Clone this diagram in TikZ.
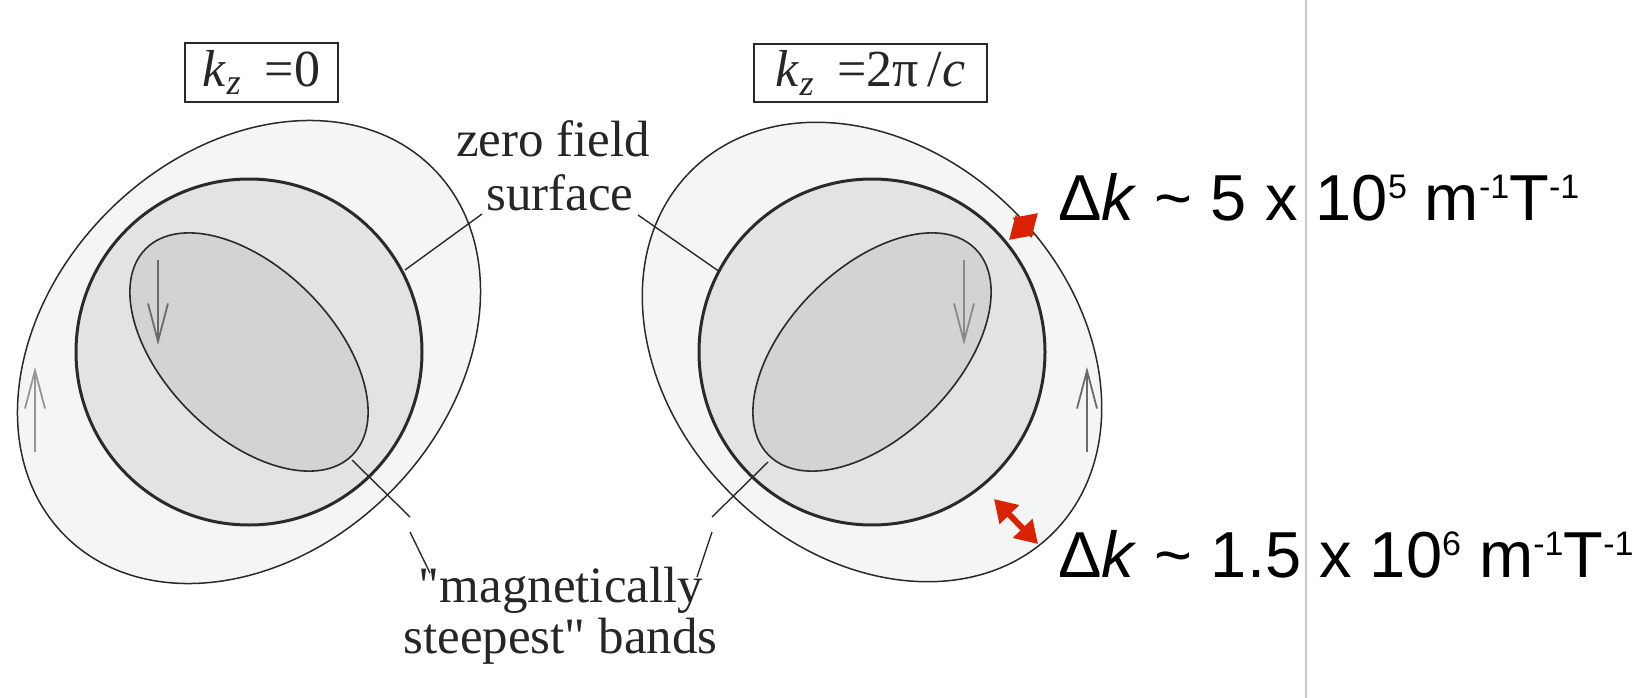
\documentclass[tikz,border=0pt]{standalone}
\usepackage{fontspec}
\setmainfont{Liberation Serif}
\setsansfont{Liberation Sans}
\usetikzlibrary{arrows.meta}
\definecolor{fsOuter}{HTML}{F4F5F5}
\definecolor{fsMiddle}{HTML}{E2E3E5}
\definecolor{fsInner}{HTML}{D2D3D5}
\definecolor{fsLine}{HTML}{2A2A2A}
\definecolor{fsText}{HTML}{262626}
\definecolor{dkRed}{HTML}{D82200}
\definecolor{sepGray}{HTML}{C8C8C8}
\newcommand{\fsKz}[1]{\textit{k}\textsubscript{\textit{z}}\hspace{0.45em}=#1}
\newcommand{\dkSup}[1]{\raisebox{22pt}{\fontsize{34}{34}\selectfont #1}}
\newcommand{\dkText}[2]{Δ\textit{k} \textasciitilde{} #1 x 10\dkSup{#2} m\dkSup{-1}T\dkSup{-1}}

\begin{document}
\begin{tikzpicture}[x=1pt,y=-1pt,
  fsOuterBand/.style={fill=fsOuter, draw=fsLine, line width=1.5pt},
  fsZero/.style={fill=fsMiddle, draw=fsLine, line width=3pt},
  fsSteep/.style={fill=fsInner, draw=fsLine, line width=1.6pt},
  fsLeader/.style={draw=fsLine, line width=1.4pt},
  fsOrbit/.style={draw=fsLine!70, line width=1.8pt, -{Straight Barb[length=38pt,width=20pt]}},
  dkArrow/.style={draw=dkRed, line width=6pt, {Triangle[length=22pt,width=26pt]}-{Triangle[length=22pt,width=26pt]}},
  fsLabel/.style={anchor=base, inner sep=0pt, text=fsText, font=\fontsize{51}{53}\selectfont},
  fsBox/.style={draw=fsLine, line width=1.8pt, inner sep=0pt, text=fsText, font=\fontsize{52}{52}\selectfont},
  dkLabel/.style={anchor=base west, inner sep=0pt, font=\sffamily\fontsize{65}{65}\selectfont}]
\useasboundingbox (0,0) rectangle (1649,698);
\coordinate (sepTop) at (1306,0);
\coordinate (sepBot) at (1306,698);
\draw[sepGray, line width=2pt] (sepTop) -- (sepBot);
\coordinate (leftC) at (249,352);
\coordinate (rightC) at (872,352);
\draw[fsOuterBand, rotate around={45:(leftC)}] (leftC) ellipse [x radius=260, y radius=199];
\draw[fsZero] (leftC) circle [radius=173];
\draw[fsSteep, rotate around={-45:(leftC)}] (leftC) ellipse [x radius=146, y radius=84];
\draw[fsOuterBand, rotate around={-45:(rightC)}] (rightC) ellipse [x radius=256, y radius=200];
\draw[fsZero] (rightC) circle [radius=173];
\draw[fsSteep, rotate around={45:(rightC)}] (rightC) ellipse [x radius=146, y radius=84];
\node[fsBox, minimum width=153pt, minimum height=59pt] (kzZero) at (261.5,72.5) {\fsKz{0}};
\node[fsBox, minimum width=233pt, minimum height=58pt] (kzTwoPi) at (870.5,73) {\fsKz{2π\,/\textit{c}}};
\node[fsLabel] (zeroField) at (553,157) {zero field};
\node[fsLabel] (surface) at (560,210) {surface};
\node[fsLabel] (magnetically) at (561,602) {\textquotedbl magnetically};
\node[fsLabel] (steepest) at (560.5,653) {steepest\textquotedbl{} bands};
\coordinate (zfLeftA) at (482,214);
\coordinate (zfLeftB) at (405,270);
\coordinate (zfRightA) at (638,215);
\coordinate (zfRightB) at (720,272);
\draw[fsLeader] (zfLeftA) -- (zfLeftB);
\draw[fsLeader] (zfRightA) -- (zfRightB);
\coordinate (bandLeftA) at (352,460);
\coordinate (bandLeftB) at (410,517);
\coordinate (bandLeftC) at (410,532);
\coordinate (bandLeftD) at (430,573);
\coordinate (bandRightA) at (768,462);
\coordinate (bandRightB) at (712,517);
\coordinate (bandRightC) at (712,532);
\coordinate (bandRightD) at (697,577);
\draw[fsLeader] (bandLeftA) -- (bandLeftB);
\draw[fsLeader] (bandLeftC) -- (bandLeftD);
\draw[fsLeader] (bandRightA) -- (bandRightB);
\draw[fsLeader] (bandRightC) -- (bandRightD);
\coordinate (orbitLeftInA) at (158,260);
\coordinate (orbitLeftInB) at (158,345);
\coordinate (orbitLeftOutA) at (35,452);
\coordinate (orbitLeftOutB) at (35,367);
\coordinate (orbitRightInA) at (964,260);
\coordinate (orbitRightInB) at (964,345);
\coordinate (orbitRightOutA) at (1087,452);
\coordinate (orbitRightOutB) at (1087,367);
\draw[fsOrbit] (orbitLeftInA) -- (orbitLeftInB);
\draw[fsOrbit, draw=fsLine!50] (orbitLeftOutA) -- (orbitLeftOutB);
\draw[fsOrbit, draw=fsLine!55] (orbitRightInA) -- (orbitRightInB);
\draw[fsOrbit] (orbitRightOutA) -- (orbitRightOutB);
\coordinate (dkUpA) at (1009,240);
\coordinate (dkUpB) at (1038,213);
\coordinate (dkLowA) at (994,499);
\coordinate (dkLowB) at (1038,544);
\draw[dkArrow] (dkUpA) -- (dkUpB);
\draw[dkArrow] (dkLowA) -- (dkLowB);
\node[dkLabel] (dkSmall) at (1058,220) {\dkText{5}{5}};
\node[dkLabel] (dkLarge) at (1058,577) {\dkText{1.5}{6}};
\end{tikzpicture}
\end{document}
